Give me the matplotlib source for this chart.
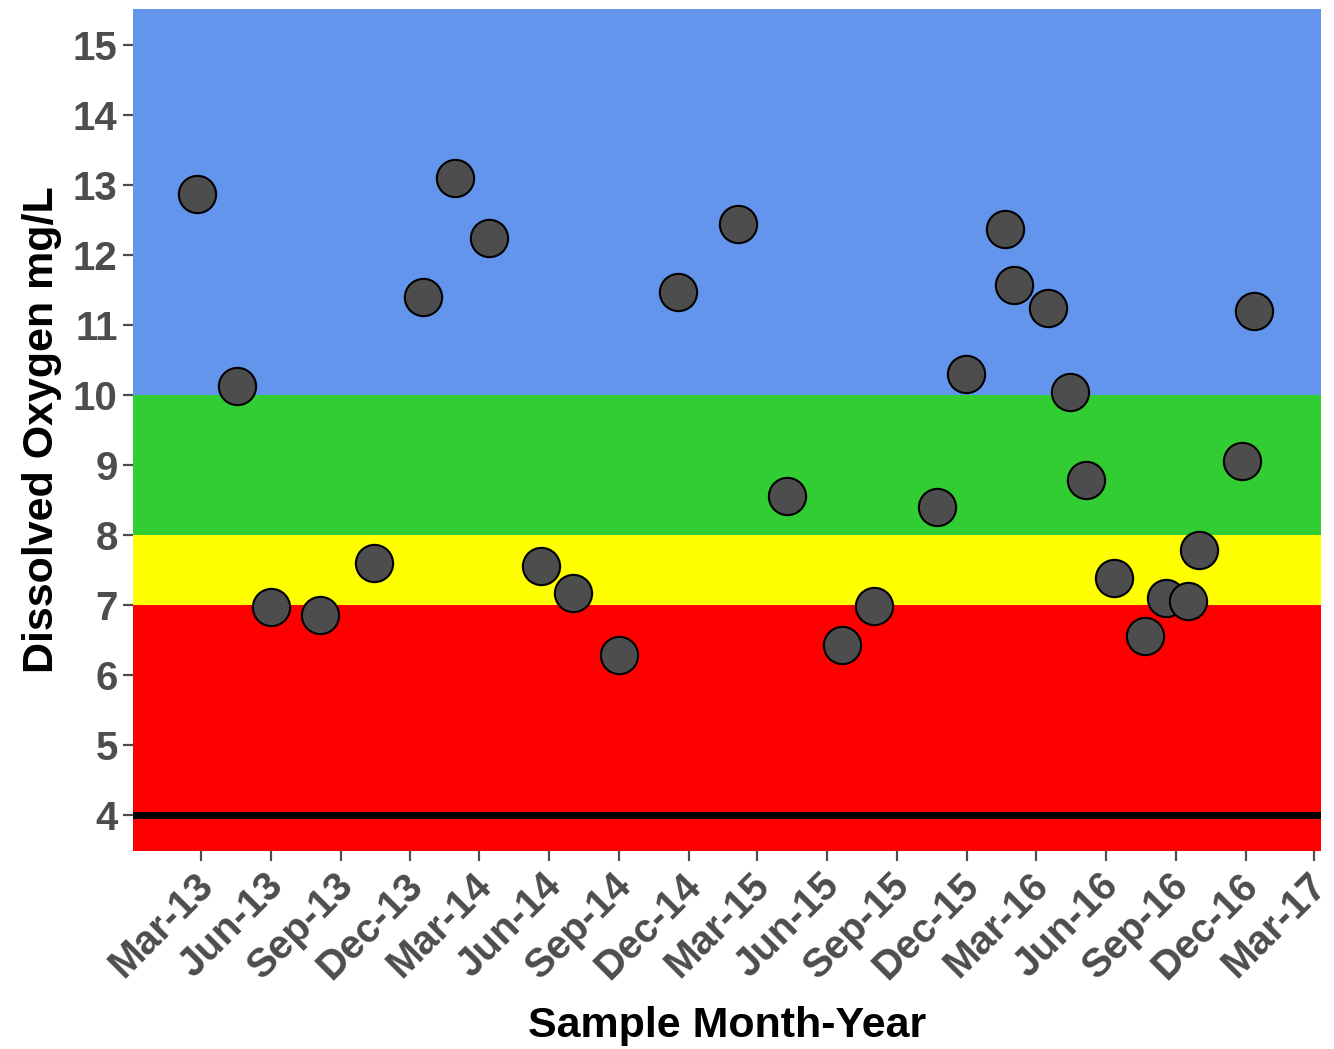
import datetime as dt
import matplotlib
matplotlib.use("Agg")
import matplotlib.pyplot as plt
import matplotlib.dates as mdates
import matplotlib.transforms as mtrans

# sample dates and dissolved oxygen readings (mg/L)
dates = ["2013-02-24", "2013-04-18", "2013-06-01", "2013-08-05", "2013-10-14",
         "2013-12-17", "2014-01-28", "2014-03-14", "2014-05-22", "2014-07-02",
         "2014-09-01", "2014-11-17", "2015-02-04", "2015-04-09", "2015-06-20",
         "2015-08-02", "2015-10-23", "2015-11-30", "2016-01-20", "2016-02-01",
         "2016-03-17", "2016-04-14", "2016-05-06", "2016-06-11", "2016-07-22",
         "2016-08-18", "2016-09-17", "2016-10-01", "2016-11-26", "2016-12-12"]
do_mgl = [12.88, 10.13, 6.97, 6.85, 7.60,
          11.40, 13.10, 12.25, 7.55, 7.17,
          6.28, 11.47, 12.45, 8.55, 6.42,
          6.98, 8.40, 10.30, 12.37, 11.58,
          11.25, 10.05, 8.78, 7.38, 6.55,
          7.10, 7.05, 7.78, 9.05, 11.20]

# quality bands: (low, high, colour)
band_low = [3.0, 7.0, 8.0, 10.0]
band_high = [7.0, 8.0, 10.0, 16.0]
band_col = ["#FF0000", "#FFFF00", "#32CD32", "#6495ED"]
threshold = 4

x = [dt.datetime.strptime(d, "%Y-%m-%d") for d in dates]

plt.rcParams["font.family"] = ["Liberation Sans", "DejaVu Sans"]
plt.rcParams["font.weight"] = "bold"

fig = plt.figure(figsize=(13.34, 10.49), dpi=100)
ax = fig.add_axes([0.0997, 0.1888, 0.8906, 0.8026])

for lo, hi, c in zip(band_low, band_high, band_col):
    ax.axhspan(lo, hi, color=c, zorder=0, lw=0)
ax.axhline(threshold, color="black", lw=5, zorder=1)

ax.scatter(x, do_mgl, s=720, c="#4D4D4D", edgecolors="black", linewidths=1.5, zorder=3)

ax.set_ylim(3.48, 15.52)
ax.set_xlim(dt.datetime(2012, 12, 2), dt.datetime(2017, 3, 10))
ax.set_yticks(range(4, 16))
ax.xaxis.set_major_locator(mdates.MonthLocator(bymonth=[3, 6, 9, 12]))
ax.xaxis.set_major_formatter(mdates.DateFormatter("%b-%y"))

for s in ax.spines.values():
    s.set_visible(False)

ax.tick_params(axis="both", colors="#4D4D4D", labelsize=29, length=7, width=1.6, pad=4)
for lab in ax.get_yticklabels() + ax.get_xticklabels():
    lab.set_fontweight("bold")
    lab.set_color("#4D4D4D")
shift = mtrans.ScaledTranslation(-7 / 100, 0, fig.dpi_scale_trans)
for lab in ax.get_xticklabels():
    lab.set_rotation(45)
    lab.set_ha("right")
    lab.set_va("top")
    lab.set_rotation_mode("anchor")
    lab.set_transform(lab.get_transform() + shift)

ax.set_xlabel("Sample Month-Year", fontsize=31, fontweight="bold", labelpad=14)
ax.set_ylabel("Dissolved Oxygen mg/L", fontsize=31, fontweight="bold", labelpad=8)

fig.savefig("out.png", dpi=100)
